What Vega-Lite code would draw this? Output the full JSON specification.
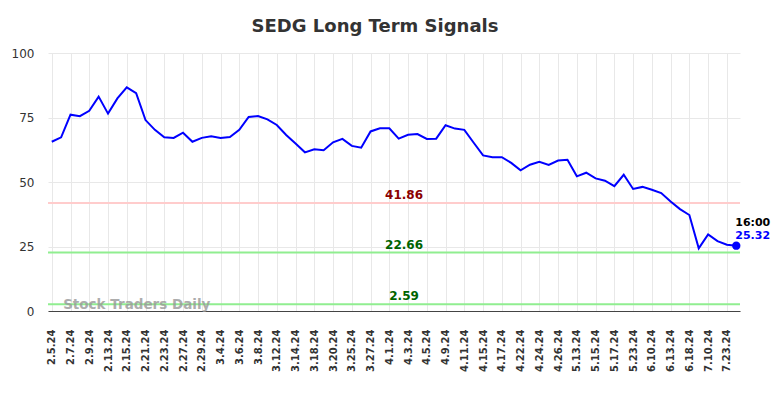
{
  "$schema": "https://vega.github.io/schema/vega-lite/v6.json",
  "autosize": {"type": "none"},
  "width": 692,
  "height": 258,
  "padding": {"left": 48, "top": 53, "right": 44, "bottom": 87},
  "background": "white",
  "title": {
    "text": "SEDG Long Term Signals",
    "fontSize": 18,
    "fontWeight": "bold",
    "font": "DejaVu Sans",
    "color": "#333333",
    "anchor": "middle",
    "dx": -19,
    "offset": 11
  },
  "config": {
    "view": {"stroke": null},
    "font": "DejaVu Sans",
    "axis": {"gridColor": "#e8e8e8", "ticks": false, "title": null}
  },
  "datasets": {
    "main": [
      {"d": "2.5.24", "v": 65.6}, {"d": "2.6.24", "v": 67.3}, {"d": "2.7.24", "v": 76.1}, {"d": "2.8.24", "v": 75.5},
      {"d": "2.9.24", "v": 77.6}, {"d": "2.12.24", "v": 83.1}, {"d": "2.13.24", "v": 76.5}, {"d": "2.14.24", "v": 82.4},
      {"d": "2.15.24", "v": 86.7}, {"d": "2.16.24", "v": 84.4}, {"d": "2.21.24", "v": 74.0}, {"d": "2.22.24", "v": 70.2},
      {"d": "2.23.24", "v": 67.3}, {"d": "2.26.24", "v": 67.1}, {"d": "2.27.24", "v": 69.1}, {"d": "2.28.24", "v": 65.6},
      {"d": "2.29.24", "v": 67.1}, {"d": "3.1.24", "v": 67.7}, {"d": "3.4.24", "v": 67.1}, {"d": "3.5.24", "v": 67.4},
      {"d": "3.6.24", "v": 70.2}, {"d": "3.7.24", "v": 75.2}, {"d": "3.8.24", "v": 75.6}, {"d": "3.11.24", "v": 74.3},
      {"d": "3.12.24", "v": 72.1}, {"d": "3.13.24", "v": 68.2}, {"d": "3.14.24", "v": 64.9}, {"d": "3.15.24", "v": 61.5},
      {"d": "3.18.24", "v": 62.7}, {"d": "3.19.24", "v": 62.3}, {"d": "3.20.24", "v": 65.4}, {"d": "3.22.24", "v": 66.7},
      {"d": "3.25.24", "v": 64.0}, {"d": "3.26.24", "v": 63.3}, {"d": "3.27.24", "v": 69.6}, {"d": "3.28.24", "v": 70.8},
      {"d": "4.1.24", "v": 70.8}, {"d": "4.2.24", "v": 66.8}, {"d": "4.3.24", "v": 68.3}, {"d": "4.4.24", "v": 68.6},
      {"d": "4.5.24", "v": 66.7}, {"d": "4.8.24", "v": 66.8}, {"d": "4.9.24", "v": 72.0}, {"d": "4.10.24", "v": 70.7},
      {"d": "4.11.24", "v": 70.2}, {"d": "4.12.24", "v": 65.2}, {"d": "4.15.24", "v": 60.3}, {"d": "4.16.24", "v": 59.6},
      {"d": "4.17.24", "v": 59.6}, {"d": "4.19.24", "v": 57.4}, {"d": "4.22.24", "v": 54.5}, {"d": "4.23.24", "v": 56.7},
      {"d": "4.24.24", "v": 57.8}, {"d": "4.25.24", "v": 56.6}, {"d": "4.26.24", "v": 58.3}, {"d": "5.10.24", "v": 58.6},
      {"d": "5.13.24", "v": 52.2}, {"d": "5.14.24", "v": 53.6}, {"d": "5.15.24", "v": 51.4}, {"d": "5.16.24", "v": 50.5},
      {"d": "5.17.24", "v": 48.4}, {"d": "5.22.24", "v": 52.8}, {"d": "5.23.24", "v": 47.3}, {"d": "6.7.24", "v": 48.1},
      {"d": "6.10.24", "v": 47.0}, {"d": "6.12.24", "v": 45.7}, {"d": "6.13.24", "v": 42.4}, {"d": "6.17.24", "v": 39.5},
      {"d": "6.18.24", "v": 37.2}, {"d": "7.9.24", "v": 24.3}, {"d": "7.10.24", "v": 29.7}, {"d": "7.22.24", "v": 27.1},
      {"d": "7.23.24", "v": 25.7}, {"d": "7.24.24", "v": 25.32, "time": "16:00"}
    ],
    "levels": [
      {"level": 41.86, "kind": "resistance", "d": "4.3.24"},
      {"level": 22.66, "kind": "support", "d": "4.3.24"},
      {"level": 2.59, "kind": "support", "d": "4.3.24"}
    ],
    "mark": [
      {"d": "2.6.24", "y": 0, "label": "Stock Traders Daily"}
    ]
  },
  "encoding": {
    "x": {
      "field": "d",
      "type": "ordinal",
      "sort": null,
      "scale": {"type": "point", "padding": 0.4},
      "axis": {
        "values": ["2.5.24","2.7.24","2.9.24","2.13.24","2.15.24","2.21.24","2.23.24","2.27.24","2.29.24","3.4.24","3.6.24","3.8.24","3.12.24","3.14.24","3.18.24","3.20.24","3.25.24","3.27.24","4.1.24","4.3.24","4.5.24","4.9.24","4.11.24","4.15.24","4.17.24","4.22.24","4.24.24","4.26.24","5.13.24","5.15.24","5.17.24","5.23.24","6.10.24","6.13.24","6.18.24","7.10.24","7.23.24"],
        "labelAngle": 270,
        "labelFontSize": 10,
        "labelFontWeight": "bold",
        "labelColor": "#333333",
        "labelPadding": 18,
        "domainColor": "#444444",
        "grid": true
      }
    }
  },
  "layer": [
    {
      "data": {"name": "levels"},
      "mark": {"type": "rule", "strokeWidth": 2},
      "encoding": {
        "x": null,
        "y": {"field": "level", "type": "quantitative", "scale": {"domain": [0, 100], "nice": false},
          "axis": {"values": [0, 25, 50, 75, 100], "domain": false, "labelFontSize": 12, "labelColor": "#333333", "labelPadding": 14}},
        "color": {"field": "kind", "type": "nominal", "scale": {"domain": ["resistance", "support"], "range": ["#ffcccc", "#90ee90"]}, "legend": null}
      }
    },
    {
      "data": {"name": "main"},
      "mark": {"type": "line", "color": "#0000ff", "strokeWidth": 2},
      "encoding": {
        "y": {"field": "v", "type": "quantitative"}
      }
    },
    {
      "data": {"name": "levels"},
      "mark": {"type": "text", "fontWeight": "bold", "fontSize": 12, "baseline": "alphabetic", "dy": -4, "dx": -4},
      "encoding": {
        "x": {"field": "d", "type": "ordinal", "sort": null},
        "y": {"field": "level", "type": "quantitative"},
        "text": {"field": "level", "type": "quantitative", "format": ".2f"},
        "color": {"field": "kind", "type": "nominal", "scale": {"domain": ["resistance", "support"], "range": ["#8b0000", "#006400"]}, "legend": null}
      }
    },
    {
      "data": {"name": "main"},
      "transform": [{"filter": "datum.time"}],
      "mark": {"type": "point", "filled": true, "color": "#0000ff", "size": 70, "opacity": 1},
      "encoding": {"y": {"field": "v", "type": "quantitative"}}
    },
    {
      "data": {"name": "main"},
      "transform": [{"filter": "datum.time"}],
      "mark": {"type": "text", "fontWeight": "bold", "fontSize": 11, "align": "left", "baseline": "alphabetic", "dy": -20, "dx": -1, "color": "#000000"},
      "encoding": {"y": {"field": "v", "type": "quantitative"}, "text": {"field": "time"}}
    },
    {
      "data": {"name": "main"},
      "transform": [{"filter": "datum.time"}],
      "mark": {"type": "text", "fontWeight": "bold", "fontSize": 11, "align": "left", "baseline": "alphabetic", "dy": -7, "dx": -1, "color": "#0000ff"},
      "encoding": {"y": {"field": "v", "type": "quantitative"}, "text": {"field": "v", "type": "quantitative", "format": ".2f"}}
    },
    {
      "data": {"name": "mark"},
      "mark": {"type": "text", "fontWeight": "bold", "fontSize": 13.5, "align": "left", "baseline": "alphabetic", "dy": -2, "dx": 2, "color": "#999999", "opacity": 0.8},
      "encoding": {"y": {"field": "y", "type": "quantitative"}, "text": {"field": "label"}}
    }
  ],
  "resolve": {"scale": {"color": "independent"}}
}
